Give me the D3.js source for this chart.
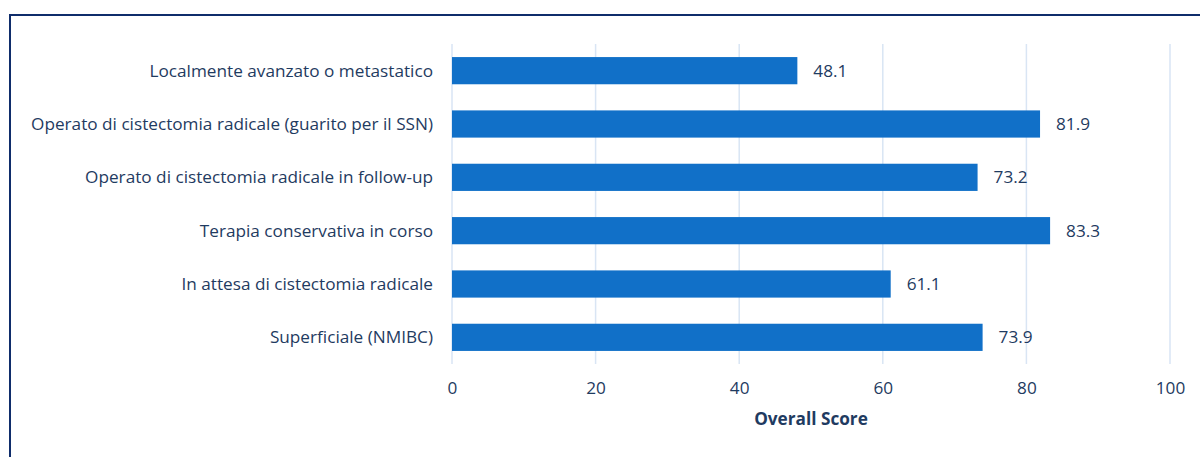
<!DOCTYPE html>
<html>
<head>
<meta charset="utf-8">
<script src="https://cdn.jsdelivr.net/npm/d3@7"></script>
<style>
  body { margin: 0; background: #fff; }
  svg { display: block; font-family: "Open Sans", sans-serif; }
</style>
</head>
<body>
<svg id="chart" width="1200" height="457"></svg>
<script>
const categories = [
  'Localmente avanzato o metastatico',
  'Operato di cistectomia radicale (guarito per il SSN)',
  'Operato di cistectomia radicale in follow-up',
  'Terapia conservativa in corso',
  'In attesa di cistectomia radicale',
  'Superficiale (NMIBC)'
];
const scores = [48.1, 81.9, 73.2, 83.3, 61.1, 73.9];
const xTicks = [0, 20, 40, 60, 80, 100];
const axisTitle = 'Overall Score';

main();

function main () {
  const svg = d3.select('svg#chart');
  const textColor = '#1f3b61';
  const fontSize = 17.2;
  const left = 452;
  const right = 1170;
  const top = 44;
  const bottom = 364;

  // frame
  svg.append('path')
    .attr('d', 'M10,457 L10,15 L1200,15')
    .attr('fill', 'none')
    .attr('stroke', '#0f2d6b')
    .attr('stroke-width', 2);

  const x = d3.scaleLinear().domain([0, 100]).range([left, right]);
  const y = d3.scaleBand().domain(categories).range([top, bottom]).paddingInner(0.49).paddingOuter(0.245);

  // grid
  svg.append('g').selectAll('line').data(xTicks).join('line')
    .attr('x1', d => x(d)).attr('x2', d => x(d))
    .attr('y1', top).attr('y2', bottom)
    .attr('stroke', '#d9e5f4').attr('stroke-width', 1.5);

  // bars
  svg.append('g').selectAll('rect').data(scores).join('rect')
    .attr('x', x(0))
    .attr('y', (d, i) => y(categories[i]))
    .attr('width', d => x(d) - x(0))
    .attr('height', y.bandwidth())
    .attr('fill', '#1170c8');

  // value labels
  svg.append('g').selectAll('text').data(scores).join('text')
    .attr('x', d => x(d) + 16)
    .attr('y', (d, i) => y(categories[i]) + y.bandwidth() / 2)
    .attr('dy', '0.35em')
    .attr('font-size', fontSize)
    .attr('fill', textColor)
    .text(d => d.toFixed(1));

  // category labels
  svg.append('g').selectAll('text').data(categories).join('text')
    .attr('x', 433)
    .attr('y', d => y(d) + y.bandwidth() / 2)
    .attr('dy', '0.35em')
    .attr('text-anchor', 'end')
    .attr('font-size', fontSize)
    .attr('fill', textColor)
    .text(d => d);

  // x axis
  const xAxis = svg.append('g')
    .attr('transform', `translate(0,${bottom})`)
    .call(d3.axisBottom(x).tickValues(xTicks).tickSize(0).tickPadding(18));
  xAxis.select('.domain').remove();
  xAxis.selectAll('text')
    .attr('font-size', fontSize)
    .attr('font-family', '"Open Sans", sans-serif')
    .attr('fill', textColor);

  svg.append('text')
    .attr('x', (left + right) / 2)
    .attr('y', 425)
    .attr('text-anchor', 'middle')
    .attr('font-size', fontSize)
    .attr('font-weight', 'bold')
    .attr('fill', textColor)
    .text(axisTitle);
}
</script>
</body>
</html>
